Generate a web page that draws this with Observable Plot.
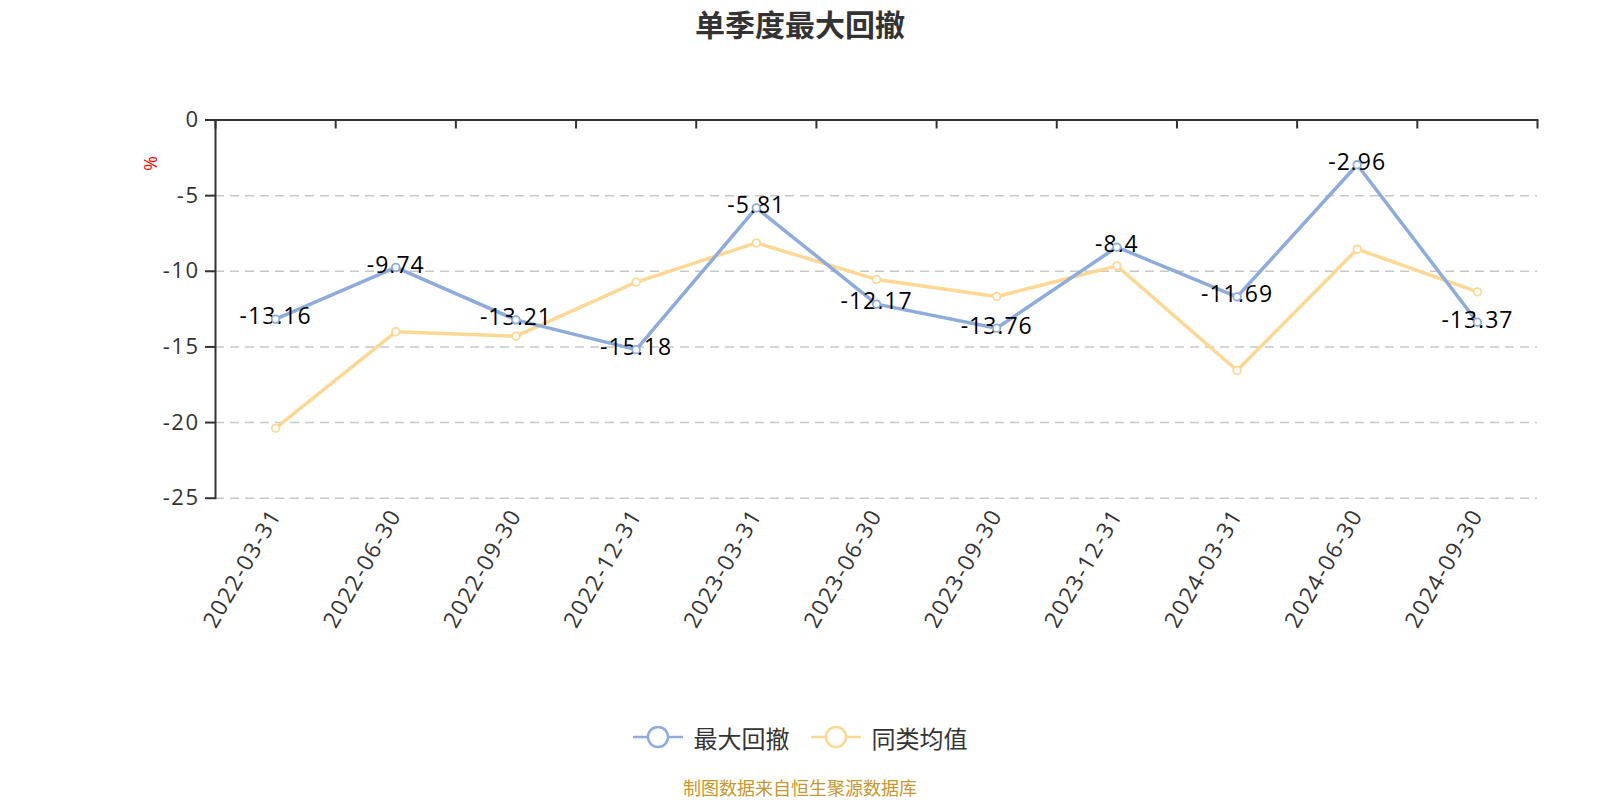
<!DOCTYPE html>
<html>
<head>
<meta charset="utf-8">
<script src="https://cdn.jsdelivr.net/npm/d3@7"></script>
<script src="https://cdn.jsdelivr.net/npm/@observablehq/plot@0.6"></script>
<style>
  html, body { margin: 0; padding: 0; background: #fff; overflow: hidden; }
  body { width: 1600px; height: 800px; font-family: "Open Sans", "Noto Sans CJK SC", sans-serif; }
  #title { height: 50px; line-height: 46px; text-align: center; font-size: 30px; font-weight: 700; color: #333; font-family: "Noto Sans CJK SC", sans-serif; }
  #chart { height: 650px; }
  #chart svg text { letter-spacing: 1.5px; }
  #chart svg g.values text { letter-spacing: 1px; }
  #legend { height: 74px; display: flex; justify-content: center; align-items: center; gap: 21px; font-size: 24px; color: #333; font-family: "Noto Sans CJK SC", sans-serif; }
  .item { display: flex; align-items: center; gap: 11px; }
  #caption { height: 26px; line-height: 26px; text-align: center; font-size: 18px; color: #c8962e; font-family: "Noto Sans CJK SC", sans-serif; }
</style>
</head>
<body>
<div id="title"></div>
<div id="chart"></div>
<div id="legend"></div>
<div id="caption"></div>
<script>
const titleText = "单季度最大回撤";
const captionText = "制图数据来自恒生聚源数据库";
const dates = ["2022-03-31","2022-06-30","2022-09-30","2022-12-31","2023-03-31","2023-06-30","2023-09-30","2023-12-31","2024-03-31","2024-06-30","2024-09-30"];
const drawdown = [-13.16, -9.74, -13.21, -15.18, -5.81, -12.17, -13.76, -8.4, -11.69, -2.96, -13.37];
const peerAvg = [-20.37, -14.0, -14.29, -10.72, -8.12, -10.54, -11.67, -9.64, -16.56, -8.54, -11.36];
const seriesNames = ["最大回撤", "同类均值"];
const seriesColors = ["#8eacdb", "#fdd895"];
const yTicks = [0, -5, -10, -15, -20, -25];
const gridTicks = [-5, -10, -15, -20, -25];
const yUnit = "%";

document.getElementById("title").textContent = titleText;
document.getElementById("caption").textContent = captionText;

const idx = dates.map((d, i) => i);
const bounds = d3.range(dates.length + 1).map(i => i - 0.5);
const rows = [
  ...idx.map(i => ({i, value: peerAvg[i], series: seriesNames[1]})),
  ...idx.map(i => ({i, value: drawdown[i], series: seriesNames[0]}))
];
const blueRows = rows.filter(r => r.series === seriesNames[0]);

const chart = Plot.plot({
  width: 1600,
  height: 650,
  marginLeft: 215,
  marginRight: 63,
  marginTop: 69.5,
  marginBottom: 202.3,
  style: {fontFamily: "'Open Sans', 'Noto Sans CJK SC', sans-serif", background: "transparent"},
  x: {domain: [-0.5, dates.length - 0.5]},
  y: {domain: [-25, 0]},
  color: {domain: seriesNames, range: seriesColors},
  marks: [
    Plot.ruleY(gridTicks, {stroke: "#c8c8c8", strokeWidth: 1.5, strokeDasharray: "9,6"}),
    Plot.axisY({ticks: yTicks, tickFormat: d => String(d), tickSize: 10, tickPadding: 6, fontSize: 22, color: "#333", strokeWidth: 2, label: null}),
    Plot.axisX({anchor: "top", ticks: bounds, tickSize: 8, dy: 8, tickFormat: () => "", color: "#333", strokeWidth: 2, label: null}),
    Plot.axisX({anchor: "bottom", ticks: idx, tickFormat: i => dates[i], tickRotate: -60, tickSize: 0, tickPadding: 13, fontSize: 22.5, color: "#333", label: null}),
    Plot.frame({anchor: "left", stroke: "#333", strokeWidth: 2}),
    Plot.frame({anchor: "top", stroke: "#333", strokeWidth: 2}),
    Plot.text([yUnit], {frameAnchor: "top-left", dx: -59, dy: 36, rotate: 90, fill: "red", fontSize: 18}),
    Plot.line(rows, {x: "i", y: "value", z: "series", stroke: "series", strokeWidth: 3.5}),
    Plot.text(blueRows, {x: "i", y: "value", text: d => String(d.value), dy: -2, fontSize: 23, fill: "#000", className: "values"}),
    Plot.dot(rows, {x: "i", y: "value", stroke: "series", fill: "white", r: 3.8, strokeWidth: 1.8})
  ]
});
document.getElementById("chart").appendChild(chart);

const legend = document.getElementById("legend");
seriesNames.forEach((name, k) => {
  const item = document.createElement("div");
  item.className = "item";
  const c = seriesColors[k];
  item.innerHTML = `<svg width="50" height="26"><line x1="0" y1="13" x2="50" y2="13" stroke="${c}" stroke-width="2.5"/><circle cx="25" cy="13" r="10" fill="white" stroke="${c}" stroke-width="2.5"/></svg><span></span>`;
  item.querySelector("span").textContent = name;
  legend.appendChild(item);
});
</script>
</body>
</html>
